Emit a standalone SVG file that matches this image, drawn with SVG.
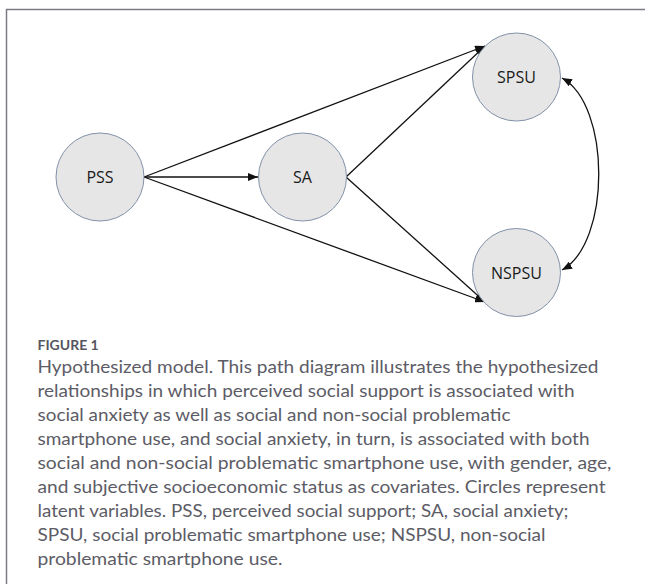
<svg xmlns="http://www.w3.org/2000/svg" width="645" height="584" viewBox="0 0 645 584">
  <style>
    .node circle { fill: #e6e6e6; stroke: #8291a8; stroke-width: 1; }
    .node text { font-family: "Open Sans", "Liberation Sans", sans-serif; font-size: 16px; fill: #1a1a1a; text-anchor: middle; }
    .conn { stroke: #111; stroke-width: 1.3; fill: none; }
    .cap { font-family: Lato, "Open Sans", sans-serif; font-size: 17px; fill: #5c5c66; }
    .figlabel { font-family: Lato, "Open Sans", sans-serif; font-size: 14px; font-weight: 700; fill: #55555f; }
  </style>
  <defs>
    <marker id="arr" viewBox="0 0 10 8" refX="10" refY="4" markerWidth="10" markerHeight="8" markerUnits="userSpaceOnUse" orient="auto-start-reverse">
      <path d="M0,0 L10,4 L0,8 Z" fill="#111"/>
    </marker>
  </defs>
  <rect width="645" height="584" fill="#fff"/>
  <path d="M6.5,584 L6.5,9.5 L645,9.5" fill="none" stroke="#7b7b86" stroke-width="1.5"/>

  <g id="connectors">
    <line class="conn" x1="144" y1="177" x2="258" y2="177" marker-end="url(#arr)"/>
    <line class="conn" x1="144" y1="177" x2="485" y2="46" marker-end="url(#arr)"/>
    <line class="conn" x1="144" y1="177" x2="485" y2="302" marker-end="url(#arr)"/>
    <line class="conn" x1="346" y1="177" x2="485" y2="46" marker-end="url(#arr)"/>
    <line class="conn" x1="346" y1="177" x2="485" y2="302" marker-end="url(#arr)"/>
    <path class="conn" d="M562,78 C611,105 611,243 562,270" marker-start="url(#arr)" marker-end="url(#arr)"/>
  </g>

  <g id="node-PSS" class="node">
    <circle cx="100" cy="177" r="44"/>
    <text x="100" y="183">PSS</text>
  </g>
  <g id="node-SA" class="node">
    <circle cx="302.5" cy="177" r="44"/>
    <text x="302.5" y="183">SA</text>
  </g>
  <g id="node-SPSU" class="node">
    <circle cx="516.5" cy="77" r="44"/>
    <text x="516.5" y="83">SPSU</text>
  </g>
  <g id="node-NSPSU" class="node">
    <circle cx="516.5" cy="272.5" r="44"/>
    <text x="516.5" y="278.5">NSPSU</text>
  </g>

  <g id="caption">
    <text class="figlabel" x="37.5" y="350">FIGURE 1</text>
    <text class="cap" x="37.5" y="373" textLength="561" lengthAdjust="spacingAndGlyphs">Hypothesized model. This path diagram illustrates the hypothesized</text>
    <text class="cap" x="37.5" y="397" textLength="537" lengthAdjust="spacingAndGlyphs">relationships in which perceived social support is associated with</text>
    <text class="cap" x="37.5" y="421" textLength="473" lengthAdjust="spacingAndGlyphs">social anxiety as well as social and non-social problematic</text>
    <text class="cap" x="37.5" y="445" textLength="552" lengthAdjust="spacingAndGlyphs">smartphone use, and social anxiety, in turn, is associated with both</text>
    <text class="cap" x="37.5" y="469" textLength="574" lengthAdjust="spacingAndGlyphs">social and non-social problematic smartphone use, with gender, age,</text>
    <text class="cap" x="37.5" y="493" textLength="568" lengthAdjust="spacingAndGlyphs">and subjective socioeconomic status as covariates. Circles represent</text>
    <text class="cap" x="37.5" y="517" textLength="531" lengthAdjust="spacingAndGlyphs">latent variables. PSS, perceived social support; SA, social anxiety;</text>
    <text class="cap" x="37.5" y="541" textLength="508" lengthAdjust="spacingAndGlyphs">SPSU, social problematic smartphone use; NSPSU, non-social</text>
    <text class="cap" x="37.5" y="565" textLength="245" lengthAdjust="spacingAndGlyphs">problematic smartphone use.</text>
  </g>
</svg>
